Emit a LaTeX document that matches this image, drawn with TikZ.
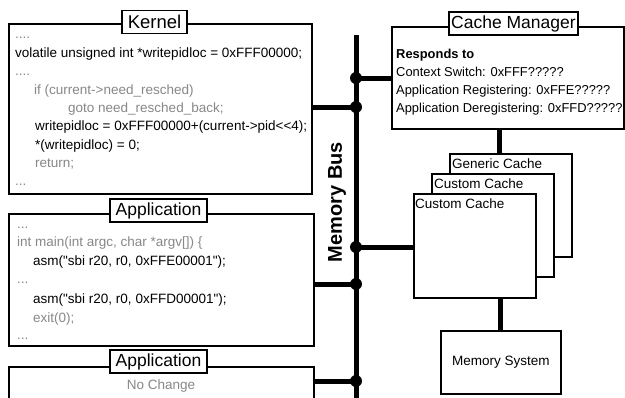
\documentclass[tikz,border=0pt]{standalone}
\usepackage{fontspec}
\setmainfont{Liberation Sans}[Ligatures=TeXOff]
\definecolor{codegray}{RGB}{136,136,136}
\begin{document}
\begin{tikzpicture}[x=1pt,y=-1pt,
  box/.style={draw=black,line width=1.8pt,fill=white,rectangle,inner sep=0pt,anchor=north west},
  lbl/.style={draw=black,line width=1.6pt,fill=white,rectangle,inner sep=0pt,minimum height=23pt,font=\fontsize{17.5}{20}\selectfont},
  code/.style={anchor=base west,inner sep=0pt,font=\fontsize{13.5}{16}\selectfont},
  grey/.style={code,text=codegray},
  cmtext/.style={code,font=\fontsize{12.9}{16}\selectfont},
  conn/.style={line width=5pt},
  dot/.style={circle,fill=black,inner sep=0pt,minimum size=12pt}]
\useasboundingbox (0,0) rectangle (625,397);

% bus
\coordinate (bustop) at (356,35);
\coordinate (busbot) at (356,402);
\coordinate (jcm) at (356,78);
\coordinate (jk) at (356,107);
\coordinate (jc) at (356,247);
\coordinate (ja1) at (356,284);
\coordinate (ja2) at (356,381);

% boxes
\node[box,minimum width=303pt,minimum height=170pt] (kernel) at (8,23) {};
\node[box,minimum width=305pt,minimum height=132pt] (app1) at (8,213) {};
\node[box,minimum width=305pt,minimum height=60pt] (app2) at (8,366) {};
\node[box,minimum width=232pt,minimum height=102pt] (cm) at (391,26) {};
\node[box,minimum width=122pt,minimum height=103pt] (gen) at (449,153) {};
\node[box,minimum width=122pt,minimum height=103pt] (cc2) at (431,173) {};
\node[box,minimum width=122pt,minimum height=104pt] (cc1) at (413,193) {};
\node[box,minimum width=120pt,minimum height=63pt] (mem) at (440,330) {};

% connectors
\draw[conn] (bustop) -- (busbot);
\draw[conn] (jk) -- (kernel.east |- jk);
\draw[conn] (jcm) -- (cm.west |- jcm);
\draw[conn] (jc) -- (cc1.west |- jc);
\draw[conn] (ja1) -- (app1.east |- ja1);
\draw[conn] (ja2) -- (app2.east |- ja2);
\coordinate (cmg) at (499,128);
\draw[conn] (cmg) -- (cmg |- gen.north);
\draw[conn] (mem.north) -- (mem.north |- cc1.south);
\foreach \j in {jcm,jk,jc,ja1,ja2} \node[dot] at (\j) {};

% labels
\node[lbl,minimum width=65pt,font=\fontsize{18.5}{20}\selectfont] (kl) at (154.5,22) {Kernel};
\node[lbl,minimum width=97pt] (al1) at (158.5,210.5) {Application};
\node[lbl,minimum width=97pt] (al2) at (158.5,361.5) {Application};
\node[lbl,minimum width=129pt] (cml) at (513.5,23.5) {Cache Manager};
\node[rotate=90,inner sep=0pt,font=\fontsize{20}{22}\selectfont\bfseries] (mb) at (337,202) {Memory Bus};

% kernel code
\node[grey] (k1) at (15,38) {....};
\node[code] (k2) at (15,57) {volatile unsigned int *writepidloc = 0xFFF00000;};
\node[grey] (k3) at (15,75) {....};
\node[grey] (k4) at (34,94) {if (current->need\_resched)};
\node[grey] (k5) at (68,112) {goto need\_resched\_back;};
\node[code] (k6) at (35,130) {writepidloc = 0xFFF00000+(current->pid<<4);};
\node[code] (k7) at (35,149) {*(writepidloc) = 0;};
\node[grey] (k8) at (35,167) {return;};
\node[grey] (k9) at (15,185) {...};

% application code
\node[grey] (a1) at (17,228) {...};
\node[grey] (a2) at (17,246) {int main(int argc, char *argv[]) \{};
\node[code] (a3) at (33,265) {asm("sbi r20, r0, 0xFFE00001");};
\node[grey] (a4) at (17,283) {...};
\node[code] (a5) at (33,303) {asm("sbi r20, r0, 0xFFD00001");};
\node[grey] (a6) at (33,322) {exit(0);};
\node[grey] (a7) at (17,339) {...};
\node[grey,anchor=base] (nc) at (161,389) {No Change};

% cache manager text
\node[cmtext,font=\fontsize{12.9}{16}\selectfont\bfseries] (r0) at (396,58) {Responds to};
\node[cmtext] (r1) at (396,76) {Context Switch: 0xFFF?????};
\node[cmtext] (r2) at (396,94) {Application Registering: 0xFFE?????};
\node[cmtext] (r3) at (396,112) {Application Deregistering: 0xFFD?????};

% cache labels
\node[code] (gt) at (452,168) {Generic Cache};
\node[code] (c2t) at (434,188) {Custom Cache};
\node[code] (c1t) at (415,208) {Custom Cache};
\node[inner sep=0pt,font=\fontsize{13.5}{16}\selectfont] (mt) at (mem.center) {Memory System};
\end{tikzpicture}
\end{document}
